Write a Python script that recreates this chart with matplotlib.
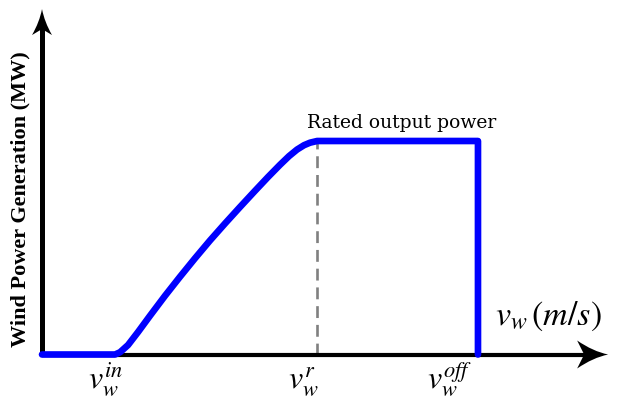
import matplotlib
matplotlib.use('Agg')
import matplotlib.pyplot as plt
from matplotlib.path import Path
from matplotlib.patches import PathPatch
from matplotlib.transforms import Affine2D

plt.rcParams['mathtext.fontset'] = 'stix'

# Wind speeds (m/s) and normalised output of the turbine power curve
v_in = 3.26
v_rated = 12.28
v_off = 19.46
speed = [0, v_in, 3.482, 3.839, 4.286, 4.821, 5.491, 6.161, 6.830, 7.500,
         8.170, 8.839, 9.509, 10.089, 10.625, 11.027, 11.384, 11.696, 11.964,
         v_rated, v_off, v_off]
power = [0, 0, 0.0105, 0.0443, 0.1052, 0.1816, 0.2751, 0.3643, 0.4507, 0.5343,
         0.6137, 0.6909, 0.7668, 0.8314, 0.8887, 0.9292, 0.9599, 0.9803, 0.9921,
         1.0, 1.0, 0]
rated_power = 1.0

x_tip = 25.27
y_tip = 1.618

fig = plt.figure(figsize=(6.18, 3.98), dpi=100)
ax = fig.add_axes([0, 0, 1, 1])
ax.set_xlim(-1.875, 25.71)
ax.set_ylim(-0.2037, 1.6604)
ax.axis('off')

# axes lines
ax.plot([0, x_tip - 0.9], [0, 0], color='black', lw=3.0, solid_capstyle='butt', zorder=2)
ax.plot([0, 0], [-0.005, y_tip - 0.09], color='black', lw=3.6, solid_capstyle='butt', zorder=2)


def arrow_head(x, y, verts):
    px, py = ax.transData.transform((x, y))
    codes = [Path.MOVETO, Path.CURVE3, Path.CURVE3, Path.LINETO,
             Path.LINETO, Path.CURVE3, Path.CURVE3, Path.CLOSEPOLY]
    patch = PathPatch(Path(verts + [verts[0]], codes), facecolor='black',
                      edgecolor='none', transform=Affine2D().translate(px, py), zorder=3)
    fig.add_artist(patch)


arrow_head(0, y_tip, [(0, 0), (-2.5, -13), (-10, -26), (0, -20),
                      (10, -26), (2.5, -13), (0, 0)])
arrow_head(x_tip, 0, [(0, 0), (-15, -3), (-31, -14), (-24, 0),
                      (-31, 14), (-15, 3), (0, 0)])

# rated speed marker
ax.plot([v_rated, v_rated], [0, rated_power], color='#808080', lw=1.9,
        dashes=(4.5, 2.6), zorder=1)

# power curve
ax.plot(speed, power, color='#0000ff', lw=4.8, solid_capstyle='round',
        solid_joinstyle='round', zorder=4)

ax.text(-0.98, 0.728, 'Wind Power Generation (MW)', rotation=90,
        ha='center', va='center', fontsize=16, fontweight='bold',
        family='Liberation Serif')
ax.text(16.07, 1.061, 'Rated output power', ha='center', va='baseline',
        fontsize=13.5, family='DejaVu Serif')

ax.text(2.05, -0.157, r'$v_w^{in}$', ha='left', va='baseline', fontsize=23)
ax.text(10.98, -0.157, r'$v_w^{r}$', ha='left', va='baseline', fontsize=23)
ax.text(17.19, -0.157, r'$v_w^{off}$', ha='left', va='baseline', fontsize=23)
ax.text(20.22, 0.138, r'$v_w\,(m/s)$', ha='left', va='baseline', fontsize=24.5)

fig.savefig('out.png', dpi=100)
